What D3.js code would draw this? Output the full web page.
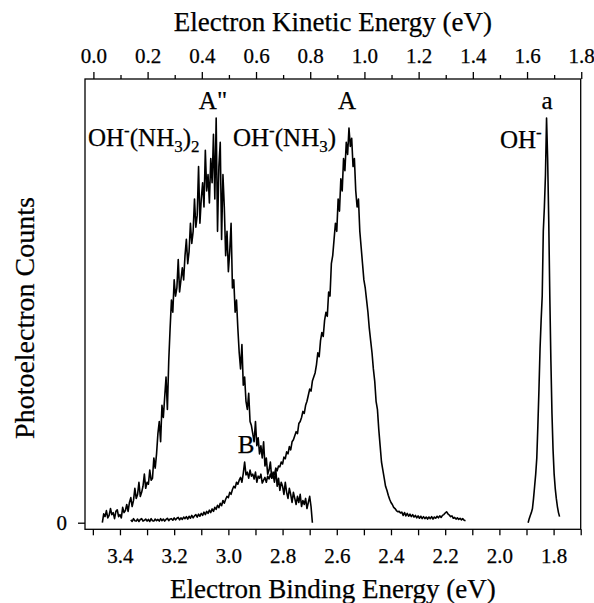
<!DOCTYPE html>
<html>
<head>
<meta charset="utf-8">
<script src="https://cdn.jsdelivr.net/npm/d3@7"></script>
<style>
  body { margin: 0; background: #fff; }
  svg text { font-family: "Liberation Serif", "Times New Roman", serif; fill: #000; stroke: #000; stroke-width: 0.25px; }
</style>
</head>
<body>
<div id="chart"></div>
<script>
// photon energy (eV): KE = HV - BE
var HV = 3.498;

// OH-(NH3)2 spectrum, binding energy from 3.465 eV down in 0.005 eV steps
var clus2Start = 3.465, clus2Step = 0.005;
var clus2Counts = [
  0.0, 0.022, 0.015, 0.03, 0.012, 0.018, 0.035, 0.02, 0.025, 0.01,
  0.028, 0.032, 0.015, 0.02, 0.012, 0.038, 0.025, 0.03, 0.045, 0.028,
  0.05, 0.062, 0.04, 0.055, 0.085, 0.06, 0.07, 0.1, 0.065, 0.075,
  0.09, 0.12, 0.085, 0.1, 0.095, 0.13, 0.105, 0.11, 0.16, 0.135,
  0.17, 0.22, 0.25, 0.2, 0.29, 0.26, 0.31, 0.36, 0.28, 0.4,
  0.48, 0.55, 0.52, 0.6, 0.56, 0.58, 0.65, 0.57, 0.6, 0.63,
  0.6, 0.66, 0.7, 0.64, 0.67, 0.74, 0.69, 0.72, 0.8, 0.73,
  0.76, 0.88, 0.74, 0.8, 0.84, 0.78, 0.92, 0.82, 0.86, 0.79,
  0.9, 0.84, 0.96, 0.8, 1.0, 0.72, 0.88, 0.94, 0.7, 0.86,
  0.78, 0.66, 0.72, 0.62, 0.67, 0.74, 0.58, 0.6, 0.52, 0.55,
  0.48, 0.42, 0.38, 0.44, 0.34, 0.36, 0.3, 0.28, 0.32, 0.25,
  0.24, 0.22, 0.2, 0.25, 0.19, 0.21, 0.17, 0.19, 0.16, 0.2,
  0.14, 0.16, 0.12, 0.13, 0.15, 0.11, 0.12, 0.1, 0.13, 0.09,
  0.11, 0.08, 0.1, 0.09, 0.07, 0.1, 0.075, 0.06, 0.085, 0.07,
  0.05, 0.075, 0.06, 0.045, 0.065, 0.05, 0.07, 0.04, 0.055, 0.045,
  0.06, 0.035, 0.05, 0.065, 0.04, 0.0
];

// OH-(NH3) spectrum, from 3.360 eV down in 0.005 eV steps
var clus1Start = 3.360, clus1Step = 0.005;
var clus1Counts = [
  0.007, 0.003, 0.01, 0.005, 0.004, 0.009, 0.003, 0.008, 0.01, 0.004,
  0.006, 0.009, 0.004, 0.008, 0.003, 0.01, 0.005, 0.004, 0.009, 0.005,
  0.008, 0.004, 0.01, 0.005, 0.009, 0.004, 0.008, 0.011, 0.005, 0.009,
  0.01, 0.006, 0.012, 0.007, 0.011, 0.013, 0.007, 0.012, 0.008, 0.014,
  0.01, 0.015, 0.009, 0.016, 0.011, 0.018, 0.012, 0.017, 0.02, 0.014,
  0.021, 0.016, 0.023, 0.018, 0.026, 0.02, 0.028, 0.023, 0.031, 0.025,
  0.034, 0.028, 0.038, 0.033, 0.043, 0.037, 0.048, 0.042, 0.055, 0.048,
  0.058, 0.065, 0.062, 0.075, 0.07, 0.082, 0.09, 0.086, 0.1, 0.095,
  0.105, 0.112, 0.1, 0.122, 0.15, 0.118, 0.125, 0.11, 0.13, 0.115,
  0.12, 0.108, 0.125, 0.1, 0.115, 0.11, 0.12, 0.098, 0.105, 0.112,
  0.1, 0.115, 0.108, 0.12, 0.11, 0.125, 0.118, 0.135, 0.128, 0.14,
  0.138, 0.15, 0.145, 0.162, 0.158, 0.175, 0.17, 0.188, 0.18, 0.2,
  0.205, 0.215, 0.225, 0.22, 0.245, 0.25, 0.26, 0.275, 0.27, 0.29,
  0.3, 0.315, 0.33, 0.325, 0.35, 0.36, 0.37, 0.39, 0.42, 0.41,
  0.45, 0.47, 0.46, 0.5, 0.52, 0.51, 0.57, 0.56, 0.64, 0.66,
  0.7, 0.74, 0.72, 0.8, 0.77, 0.85, 0.82, 0.9, 0.87, 0.94,
  0.91, 0.975, 0.93, 0.95, 0.88, 0.9, 0.82, 0.78, 0.8, 0.72,
  0.68, 0.64, 0.6, 0.58, 0.55, 0.52, 0.48, 0.45, 0.42, 0.38,
  0.35, 0.3, 0.28, 0.23, 0.19, 0.15, 0.13, 0.11, 0.09, 0.08,
  0.068, 0.058, 0.05, 0.045, 0.038, 0.035, 0.03, 0.027, 0.028, 0.024,
  0.026, 0.018, 0.025, 0.017, 0.023, 0.016, 0.021, 0.015, 0.02, 0.014,
  0.018, 0.012, 0.017, 0.011, 0.016, 0.01, 0.015, 0.01, 0.014, 0.009,
  0.014, 0.01, 0.015, 0.009, 0.014, 0.011, 0.016, 0.012, 0.017, 0.013,
  0.018, 0.02, 0.024, 0.027, 0.022, 0.019, 0.015, 0.017, 0.011, 0.013,
  0.009, 0.012, 0.008, 0.011, 0.007, 0.01, 0.006, 0.005
];

// bare OH- spectrum, from 1.894 eV down in 0.004 eV steps
var ohStart = 1.894, ohStep = 0.004;
var ohCounts = [
  0.0, 0.01, 0.018, 0.025, 0.035, 0.06, 0.09, 0.12, 0.16, 0.24,
  0.33, 0.43, 0.5, 0.56, 0.72, 0.78, 0.86, 1.0, 0.9, 0.75,
  0.56, 0.4, 0.27, 0.18, 0.12, 0.085, 0.06, 0.04, 0.025, 0.015
];

var beTicks = [3.5, 3.4, 3.3, 3.2, 3.1, 3.0, 2.9, 2.8, 2.7, 2.6, 2.5, 2.4, 2.3, 2.2, 2.1, 2.0, 1.9, 1.8, 1.7];
var beLabels = [3.4, 3.2, 3.0, 2.8, 2.6, 2.4, 2.2, 2.0, 1.8];
var keLabels = [0.0, 0.2, 0.4, 0.6, 0.8, 1.0, 1.2, 1.4, 1.6, 1.8];
var keMinor = [0.1, 0.3, 0.5, 0.7, 0.9, 1.1, 1.3, 1.5, 1.7];

var W = 594, H = 603;
var margin = {left: 85, top: 79, right: 13.3, bottom: 73.7};
var pw = W - margin.left - margin.right;
var ph = H - margin.top - margin.bottom;

var svg = d3.select("#chart").append("svg").attr("width", W).attr("height", H);
var g = svg.append("g").attr("transform", "translate(" + margin.left + "," + margin.top + ")");

var x = d3.scaleLinear().domain([3.529, 1.70]).range([0, pw]);
var xTop = d3.scaleLinear().domain([HV - 3.529, HV - 1.70]).range([0, pw]);
var y = d3.scaleLinear().domain([-0.0163, 1.0964]).range([ph, 0]);

function toPoints(start, step, counts) {
    return counts.map(function(c, i) { return [start - step * i, c]; });
}

var line = d3.line()
    .x(function(d) { return x(d[0]); })
    .y(function(d) { return y(d[1]); });

[toPoints(clus2Start, clus2Step, clus2Counts),
 toPoints(clus1Start, clus1Step, clus1Counts),
 toPoints(ohStart, ohStep, ohCounts)].forEach(function(pts) {
    g.append("path")
        .attr("d", line(pts))
        .attr("fill", "none")
        .attr("stroke", "#000")
        .attr("stroke-width", 1.6)
        .attr("stroke-linejoin", "round");
});

// frame
g.append("rect")
    .attr("width", pw).attr("height", ph)
    .attr("fill", "none").attr("stroke", "#000").attr("stroke-width", 1.3);

// bottom axis
var bAxis = g.append("g").attr("transform", "translate(0," + ph + ")")
    .call(d3.axisBottom(x).tickValues(beTicks).tickSize(6).tickSizeOuter(0).tickFormat(""));
var bLab = g.append("g").attr("transform", "translate(0," + ph + ")")
    .call(d3.axisBottom(x).tickValues(beLabels).tickSize(0).tickPadding(19).tickFormat(d3.format(".1f")));

// top axis
var tMaj = g.append("g")
    .call(d3.axisTop(xTop).tickValues(keLabels).tickSize(7).tickSizeOuter(0).tickPadding(9).tickFormat(d3.format(".1f")));
var tMin = g.append("g")
    .call(d3.axisTop(xTop).tickValues(keMinor).tickSize(4).tickSizeOuter(0).tickFormat(""));

// left axis, only zero
var lAxis = g.append("g")
    .call(d3.axisLeft(y).tickValues([0]).tickSize(7).tickSizeOuter(0).tickPadding(11).tickFormat(d3.format("d")));

[bAxis, bLab, tMaj, tMin, lAxis].forEach(function(a) {
    a.select(".domain").remove();
    a.selectAll("line").attr("stroke-width", 1.3);
    a.selectAll("text").attr("font-size", "21px").attr("font-family", null);
});

// axis titles
svg.append("text").attr("x", margin.left + pw / 2).attr("y", 31)
    .attr("text-anchor", "middle").attr("font-size", "27px")
    .text("Electron Kinetic Energy (eV)");
svg.append("text").attr("x", margin.left + pw / 2).attr("y", 598)
    .attr("text-anchor", "middle").attr("font-size", "27px")
    .text("Electron Binding Energy (eV)");
svg.append("text")
    .attr("transform", "translate(34," + 318 + ") rotate(-90)")
    .attr("text-anchor", "middle").attr("font-size", "28px")
    .text("Photoelectron Counts");

// peak labels
function label(px, py, anchor, parts) {
    var t = svg.append("text").attr("x", px).attr("y", py)
        .attr("text-anchor", anchor).attr("font-size", "25px");
    parts.forEach(function(p) {
        t.append("tspan").attr("dy", p[1]).attr("font-size", p[2] || null).text(p[0]);
    });
}
label(213, 109, "middle", [["A\"", 0]]);
label(347, 109, "middle", [["A", 0]]);
label(547, 109, "middle", [["a", 0]]);
label(246, 453, "middle", [["B", 0]]);
label(88, 146, "start", [["OH", 0], ["-", -10, "17px"], ["(NH", 10], ["3", 6, "17px"], [")", -6], ["2", 6, "17px"]]);
label(233, 146, "start", [["OH", 0], ["-", -10, "17px"], ["(NH", 10], ["3", 6, "17px"], [")", -6]]);
label(500, 148, "start", [["OH", 0], ["-", -10, "17px"]]);
</script>
</body>
</html>
